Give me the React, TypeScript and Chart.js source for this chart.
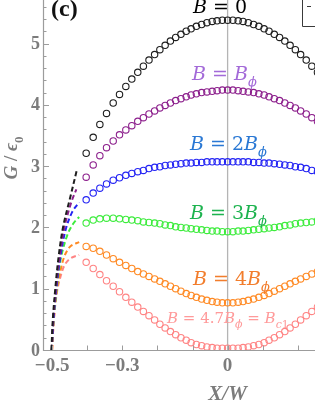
import React, { useEffect, useRef } from "react";
import { Chart, registerables } from "chart.js";

Chart.register(...registerables);

// ---------- data ----------
const xGrid = [
  -0.403, -0.383, -0.364, -0.345, -0.326, -0.308, -0.29, -0.273, -0.256, -0.24, -0.224, -0.208, -0.193,
  -0.178, -0.163, -0.148, -0.133, -0.118, -0.104, -0.089, -0.074, -0.059, -0.044, -0.03, -0.015, 0,
  0.015, 0.03, 0.044, 0.059, 0.074, 0.089, 0.104, 0.118, 0.133, 0.148, 0.163, 0.178, 0.193, 0.208,
  0.224, 0.24, 0.256,
];

const gB0 = [
  3.21, 3.47, 3.68, 3.86, 4.03, 4.17, 4.3, 4.42, 4.53, 4.63, 4.73, 4.82, 4.9, 4.97, 5.04, 5.1, 5.15,
  5.2, 5.24, 5.28, 5.31, 5.34, 5.36, 5.37, 5.38, 5.38, 5.38, 5.37, 5.36, 5.34, 5.31, 5.28, 5.24, 5.2,
  5.15, 5.1, 5.04, 4.97, 4.9, 4.82, 4.73, 4.63, 4.53,
];
const gB1 = [
  2.82, 3.02, 3.17, 3.3, 3.41, 3.51, 3.59, 3.66, 3.73, 3.79, 3.85, 3.9, 3.95, 3.99, 4.03, 4.07, 4.1,
  4.13, 4.16, 4.18, 4.2, 4.21, 4.22, 4.23, 4.24, 4.24, 4.24, 4.23, 4.22, 4.21, 4.2, 4.18, 4.16, 4.13,
  4.1, 4.07, 4.03, 3.99, 3.95, 3.9, 3.85, 3.79, 3.73,
];
const gB2 = [
  2.45, 2.56, 2.64, 2.71, 2.77, 2.81, 2.85, 2.88, 2.91, 2.93, 2.96, 2.98, 2.99, 3.01, 3.02, 3.03, 3.04,
  3.05, 3.05, 3.06, 3.06, 3.07, 3.07, 3.07, 3.07, 3.07, 3.07, 3.07, 3.07, 3.07, 3.06, 3.06, 3.05, 3.05,
  3.04, 3.03, 3.02, 3.01, 2.99, 2.98, 2.96, 2.93, 2.91,
];
const gB3 = [
  2.07, 2.12, 2.14, 2.15, 2.15, 2.14, 2.13, 2.12, 2.11, 2.09, 2.08, 2.07, 2.06, 2.04, 2.03, 2.01, 2.0,
  1.99, 1.98, 1.97, 1.96, 1.95, 1.94, 1.94, 1.93, 1.93, 1.93, 1.94, 1.94, 1.95, 1.96, 1.97, 1.98, 1.99,
  2.0, 2.01, 2.03, 2.04, 2.06, 2.07, 2.08, 2.09, 2.11,
];
const gB4 = [
  1.69, 1.66, 1.61, 1.55, 1.49, 1.43, 1.38, 1.33, 1.28, 1.24, 1.2, 1.16, 1.12, 1.08, 1.04, 1.0, 0.96,
  0.92, 0.89, 0.86, 0.83, 0.81, 0.79, 0.78, 0.77, 0.77, 0.77, 0.78, 0.79, 0.81, 0.83, 0.86, 0.89, 0.92,
  0.96, 1.0, 1.04, 1.08, 1.12, 1.16, 1.2, 1.24, 1.28,
];
const gBc1 = [
  1.43, 1.33, 1.23, 1.13, 1.04, 0.95, 0.86, 0.78, 0.7, 0.63, 0.56, 0.49, 0.42, 0.36, 0.3, 0.25, 0.2,
  0.16, 0.12, 0.09, 0.07, 0.05, 0.04, 0.03, 0.03, 0.03, 0.03, 0.03, 0.04, 0.05, 0.07, 0.09, 0.12, 0.16,
  0.2, 0.25, 0.3, 0.36, 0.42, 0.49, 0.56, 0.63, 0.7,
];

// dashed edge branches (x, G)
const dashB0X = [-0.502, -0.498, -0.491, -0.482, -0.469, -0.448, -0.429];
const dashB0G = [0, 0.5, 1.0, 1.5, 2.0, 2.5, 2.95];
const dashB1X = [-0.501, -0.497, -0.489, -0.479, -0.465, -0.446, -0.431];
const dashB1G = [0, 0.5, 1.0, 1.5, 2.0, 2.4, 2.62];
const dashB2X = [-0.501, -0.496, -0.488, -0.477, -0.462, -0.443, -0.423];
const dashB2G = [0, 0.5, 1.0, 1.5, 1.95, 2.25, 2.41];
const dashB3X = [-0.501, -0.496, -0.487, -0.475, -0.457, -0.44, -0.423];
const dashB3G = [0, 0.5, 1.0, 1.5, 1.87, 2.06, 2.17];
const dashB4X = [-0.5, -0.495, -0.486, -0.474, -0.462, -0.446, -0.423];
const dashB4G = [0, 0.5, 1.0, 1.35, 1.57, 1.7, 1.76];
const dashBc1X = [-0.5, -0.495, -0.486, -0.475, -0.463, -0.446, -0.423];
const dashBc1G = [0, 0.5, 0.95, 1.22, 1.4, 1.5, 1.55];

const yTickValues = [0, 1, 2, 3, 4, 5];
const yTickLabels = ["0", "1", "2", "3", "4", "5"];
const xTickValues = [-0.5, -0.3, 0];
const xTickLabels = ["\u22120.5", "\u22120.3", "0"];
const xMinorTicks = [-0.5, -0.4, -0.3, -0.2, -0.1, 0, 0.1, 0.2];

const X_MIN = -0.526;
const X_MAX = 0.249;
const Y_MIN = 0;
const Y_MAX = 5.71;

const circleColors = ["#1e1e1e", "#8c1f8c", "#2424f4", "#3cec3c", "#ff8a24", "#ff8484"];
const labelColors = ["#000000", "#a36ad8", "#2a78d4", "#1db34f", "#f27d2c", "#ff9a9a"];

type Run = { t: string; it?: boolean; sub?: boolean };

function runFont(r: Run, size: number, family: string, weight: string) {
  const fs = r.sub ? Math.round(size * 0.7) : size;
  return `${r.it ? "italic " : ""}${weight} ${fs}px ${family}`;
}

function measureRuns(ctx: CanvasRenderingContext2D, runs: Run[], size: number, family: string, weight = "normal") {
  let w = 0;
  for (const r of runs) {
    ctx.font = runFont(r, size, family, weight);
    w += ctx.measureText(r.t).width;
  }
  return w;
}

function drawRuns(ctx: CanvasRenderingContext2D, x: number, y: number, runs: Run[], size: number, family: string, weight = "normal") {
  let cx = x;
  for (const r of runs) {
    ctx.font = runFont(r, size, family, weight);
    const dy = r.sub ? size * 0.3 : 0;
    ctx.fillText(r.t, cx, y + dy);
    cx += ctx.measureText(r.t).width;
  }
  return cx - x;
}

const decor = {
  id: "decor",
  beforeDatasetsDraw(chart: any) {
    const { ctx, chartArea: a, scales } = chart;
    const xs = scales.x;
    ctx.save();
    ctx.strokeStyle = "#b4b4b4";
    ctx.lineWidth = 1.3;
    const x0 = xs.getPixelForValue(0);
    ctx.beginPath();
    ctx.moveTo(x0, a.top);
    ctx.lineTo(x0, a.bottom);
    ctx.stroke();
    ctx.restore();
  },
  afterDatasetsDraw(chart: any) {
    const { ctx, chartArea: a, scales } = chart;
    const xs = scales.x;
    const ys = scales.y;
    ctx.save();
    // axes
    ctx.strokeStyle = "#9c9c9c";
    ctx.lineWidth = 1.2;
    ctx.beginPath();
    ctx.moveTo(a.left + 0.5, a.top);
    ctx.lineTo(a.left + 0.5, a.bottom + 0.5);
    ctx.lineTo(a.right, a.bottom + 0.5);
    ctx.stroke();
    // y ticks
    ctx.lineWidth = 1;
    for (let v = 0; v <= 5.61; v += 0.2) {
      const py = Math.round(ys.getPixelForValue(v)) + 0.5;
      const major = Math.abs(v - Math.round(v)) < 1e-6;
      ctx.beginPath();
      ctx.moveTo(a.left, py);
      ctx.lineTo(a.left + (major ? 6 : 3.5), py);
      ctx.stroke();
    }
    // x ticks
    for (const v of xMinorTicks) {
      const px = Math.round(xs.getPixelForValue(v)) + 0.5;
      ctx.beginPath();
      ctx.moveTo(px, a.bottom);
      ctx.lineTo(px, a.bottom - 4.5);
      ctx.stroke();
    }
    // tick labels
    ctx.fillStyle = "#7c7c7c";
    ctx.font = "bold 18px 'Liberation Serif'";
    ctx.textAlign = "right";
    ctx.textBaseline = "middle";
    yTickValues.forEach((v, i) => {
      ctx.fillText(yTickLabels[i], a.left - 3, ys.getPixelForValue(v) + 1);
    });
    ctx.textAlign = "center";
    ctx.font = "bold 19px 'Liberation Serif'";
    xTickValues.forEach((v, i) => {
      ctx.fillText(xTickLabels[i], xs.getPixelForValue(v), a.bottom + 16);
    });
    // axis titles
    ctx.font = "italic bold 21px 'Liberation Serif'";
    ctx.fillText("X/W", xs.getPixelForValue(0), a.bottom + 45);
    ctx.save();
    ctx.translate(17, 158);
    ctx.rotate(-Math.PI / 2);
    ctx.textAlign = "left";
    ctx.textBaseline = "alphabetic";
    const tRuns: Run[] = [{ t: "G", it: true }, { t: " / " }, { t: "\u03f5", it: true }, { t: "0", sub: true }];
    const tw = measureRuns(ctx, tRuns, 19, "'Liberation Serif'", "bold");
    drawRuns(ctx, -tw / 2, 0, tRuns, 19, "'Liberation Serif'", "bold");
    ctx.restore();

    // panel label
    ctx.fillStyle = "#111";
    ctx.textAlign = "left";
    ctx.textBaseline = "alphabetic";
    ctx.font = "bold 24px 'Liberation Serif'";
    ctx.fillText("(c)", 51, 16);

    // legend box corner
    ctx.strokeStyle = "#3a3a3a";
    ctx.lineWidth = 1;
    ctx.beginPath();
    ctx.moveTo(302.5, 0);
    ctx.lineTo(302.5, 26.5);
    ctx.lineTo(320, 26.5);
    ctx.stroke();
    ctx.beginPath();
    ctx.moveTo(307, 6.5);
    ctx.lineTo(311, 6.5);
    ctx.stroke();

    // curve labels
    const fam = "'DejaVu Serif'";
    ctx.textAlign = "left";
    ctx.fillStyle = labelColors[0];
    drawRuns(ctx, 193, 13, [{ t: "B", it: true }, { t: " = 0" }], 19, fam);
    ctx.fillStyle = labelColors[1];
    drawRuns(ctx, 192, 80, [{ t: "B", it: true }, { t: " = " }, { t: "B", it: true }, { t: "\u03d5", it: true, sub: true }], 19, fam);
    ctx.fillStyle = labelColors[2];
    drawRuns(ctx, 190, 150, [{ t: "B", it: true }, { t: " = 2" }, { t: "B", it: true }, { t: "\u03d5", it: true, sub: true }], 19, fam);
    ctx.fillStyle = labelColors[3];
    drawRuns(ctx, 190, 219, [{ t: "B", it: true }, { t: " = 3" }, { t: "B", it: true }, { t: "\u03d5", it: true, sub: true }], 19, fam);
    ctx.fillStyle = labelColors[4];
    drawRuns(ctx, 193, 285, [{ t: "B", it: true }, { t: " = 4" }, { t: "B", it: true }, { t: "\u03d5", it: true, sub: true }], 19, fam);
    ctx.fillStyle = labelColors[5];
    const pinkRuns: Run[] = [
      { t: "B", it: true },
      { t: " = 4.7" },
      { t: "B", it: true },
      { t: "\u03d5", it: true, sub: true },
      { t: " = " },
      { t: "B", it: true },
      { t: "c", it: true, sub: true },
      { t: "1", sub: true },
    ];
    let ps = 15;
    while (ps > 10 && measureRuns(ctx, pinkRuns, ps, fam) > 124) ps -= 0.5;
    drawRuns(ctx, 167, 323, pinkRuns, ps, fam);
    ctx.restore();
  },
};

function pts(xsArr: number[], ysArr: number[]) {
  return xsArr.map((x, i) => ({ x, y: ysArr[i] }));
}

export default function App() {
  const ref = useRef<HTMLCanvasElement | null>(null);
  useEffect(() => {
    if (!ref.current) return;
    const dashSets = [
      [dashB0X, dashB0G],
      [dashB1X, dashB1G],
      [dashB2X, dashB2G],
      [dashB3X, dashB3G],
      [dashB4X, dashB4G],
      [dashBc1X, dashBc1G],
    ];
    const circleSets = [gB0, gB1, gB2, gB3, gB4, gBc1];
    const datasets: any[] = [];
    dashSets.forEach(([dx, dg], i) => {
      datasets.push({
        data: pts(dx, dg),
        showLine: true,
        borderColor: circleColors[i],
        borderWidth: 2,
        borderDash: [5, 3],
        pointRadius: 0,
        tension: 0.35,
        fill: false,
      });
    });
    circleSets.forEach((g, i) => {
      datasets.push({
        data: pts(xGrid, g),
        showLine: false,
        pointRadius: 3.2,
        pointBorderWidth: 1.1,
        pointBackgroundColor: "rgba(0,0,0,0)",
        pointBorderColor: circleColors[i],
        borderColor: circleColors[i],
      });
    });
    const chart = new Chart(ref.current, {
      type: "scatter",
      data: { datasets },
      options: {
        responsive: false,
        animation: false,
        events: [],
        layout: { autoPadding: false, padding: { left: 43, right: 0, top: 0, bottom: 57 } },
        plugins: { legend: { display: false }, tooltip: { enabled: false } },
        scales: {
          x: { type: "linear", min: X_MIN, max: X_MAX, display: false },
          y: { type: "linear", min: Y_MIN, max: Y_MAX, display: false },
        },
      },
      plugins: [decor],
    } as any);
    return () => chart.destroy();
  }, []);
  return (
    <div style={{ position: "fixed", left: 0, top: 0, width: 315, height: 407, background: "#fff" }}>
      <canvas ref={ref} width={315} height={407} style={{ display: "block", width: 315, height: 407 }} />
    </div>
  );
}
